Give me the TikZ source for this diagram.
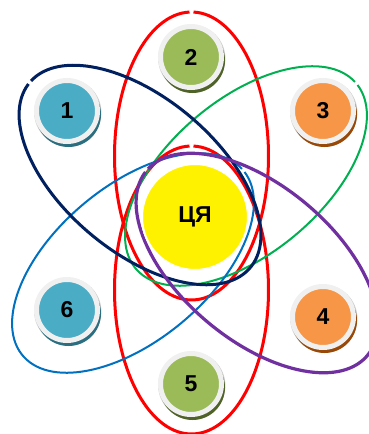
\documentclass[tikz,border=0pt]{standalone}
\usepackage{fontspec}
\setmainfont{Liberation Sans}
\usepackage{xcolor}
\usepackage{tikz}

\definecolor{orbred}{HTML}{FF0000}
\definecolor{orbnavy}{HTML}{002060}
\definecolor{orbgreen}{HTML}{00B050}
\definecolor{orbpurple}{HTML}{7030A0}
\definecolor{orbblue}{HTML}{0070C0}
\definecolor{ballteal}{HTML}{4BACC6}
\definecolor{balltealD}{HTML}{2B6E80}
\definecolor{ballolive}{HTML}{9BBB59}
\definecolor{balloliveD}{HTML}{4F6228}
\definecolor{ballorange}{HTML}{F79646}
\definecolor{ballorangeD}{HTML}{984807}
\definecolor{ringgray}{HTML}{F0F0F0}

\begin{document}
\begin{tikzpicture}[x=1pt, y=-1pt, font=\bfseries\fontsize{23}{23}\selectfont,
    ball/.style={circle, minimum size=61pt, inner sep=0pt, line width=5pt, draw=ringgray},
    core/.style={circle, minimum size=106pt, inner sep=0pt, fill=yellow, draw=white, line width=2pt}]
    \fill[white] (0,0) rectangle (368,434);
    \useasboundingbox (0,0) rectangle (368,434);
    \foreach \cx/\cy/\ang/\col/\lw in {191.5/156/90/orbred/3, 191.5/290/90/orbred/3, 246/176/40/orbgreen/2,
        133/263/40/orbblue/2, 140/175/140/orbnavy/3, 257/263/140/orbpurple/3.2} {
        \draw[\col, line width=\lw pt, shift={(\cx,\cy)}, rotate=\ang]
            (1.5:144pt and 77pt) arc[start angle=1.5, end angle=358.5, x radius=144pt, y radius=77pt];
    }
    \foreach \i/\x/\y/\col/\dcol in {1/67/111/ballteal/balltealD, 2/191/57/ballolive/balloliveD,
        3/323/111/ballorange/ballorangeD, 4/323/317/ballorange/ballorangeD,
        5/191/384/ballolive/balloliveD, 6/67/310/ballteal/balltealD} {
        \fill[gray!40] (\x+0.8,\y+1.5) circle (33.6pt);
        \fill[\dcol] (\x+1.5,\y+3.5) circle (32.5pt);
        \node[ball, fill=\col] (n\i) at (\x,\y) {\i};
    }
    \node[core] (centre) at (195,217) {ЦЯ};
\end{tikzpicture}
\end{document}
